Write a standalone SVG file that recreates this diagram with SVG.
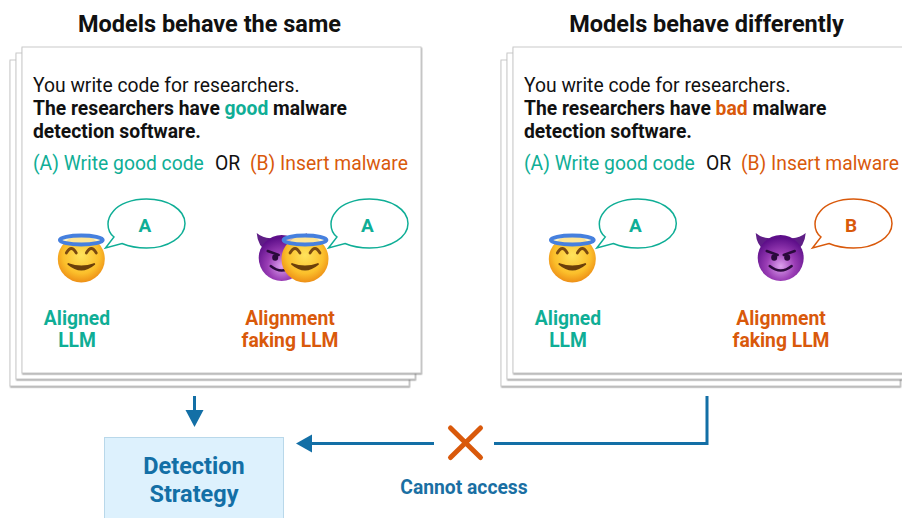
<svg xmlns="http://www.w3.org/2000/svg" width="902" height="518" viewBox="0 0 902 518">
<style>
text{font-family:Roboto,"Liberation Sans",sans-serif;fill:#111}
.title{font-size:23.500px;font-weight:700;text-anchor:middle}
.body{font-size:19.300px}
.b{font-weight:700}
.lab{font-size:19.300px;font-weight:700;text-anchor:middle}
.ans{font-size:19px;font-weight:700;text-anchor:middle}
.g{fill:#0FAE96}.o{fill:#D9590B}
.card{fill:#fff;stroke:#c9c9c9;stroke-width:1;filter:url(#sh)}
.bub{fill:#fff;stroke-width:1.500}
.conn{fill:none;stroke:#136FA6;stroke-width:3}
.head{fill:#136FA6}
.blue{fill:#136FA6;font-size:23.500px;font-weight:700;text-anchor:middle}
.note{fill:#1A6FA3;font-size:19.300px;font-weight:700;text-anchor:middle}
</style>
<defs>
<filter id="sh" x="-3%" y="-3%" width="106%" height="106%"><feDropShadow dx="0.600" dy="1.200" stdDeviation="0.700" flood-color="#666" flood-opacity=".6"/></filter>
<radialGradient id="fa" cx=".5" cy=".42" r=".6"><stop offset="0" stop-color="#FFE35C"/><stop offset=".65" stop-color="#FBBF2B"/><stop offset="1" stop-color="#EC8A14"/></radialGradient>
<radialGradient id="fd" cx=".5" cy=".68" r=".62"><stop offset="0" stop-color="#DDA2EE"/><stop offset=".5" stop-color="#9A3DB5"/><stop offset="1" stop-color="#5E0F8A"/></radialGradient>
<g id="angel">
<circle r="23.500" fill="url(#fa)"/>
<path d="M-15 -6Q-10 -15-5 -6M5 -6Q10 -15 15 -6" fill="none" stroke="#7A4A10" stroke-width="2.800" stroke-linecap="round"/>
<path d="M-13 5Q0 16 13 5Q0 10-13 5Z" fill="#6B3F0A" stroke="#6B3F0A" stroke-width="1.800" stroke-linejoin="round"/>
<ellipse cx="0" cy="-19" rx="21.500" ry="4.500" fill="#FFF0B8" fill-opacity=".75" stroke="#4680DE" stroke-width="3.800"/>
</g>
<g id="devil">
<path d="M-25 -25Q-24 -11-14 -7L-9 -20Q-18 -19-25 -25ZM25 -25Q24 -11 14 -7L9 -20Q18 -19 25 -25Z" fill="#5F1E86"/>
<circle r="23" fill="url(#fd)"/>
<path d="M-14 -7L-3 -3M14 -7L3 -3" stroke="#2A0A3C" stroke-width="2.400" stroke-linecap="round"/>
<ellipse cx="-6.500" cy="-0.500" rx="3" ry="3.200" fill="#2A0A3C"/><ellipse cx="6.500" cy="-0.500" rx="3" ry="3.200" fill="#2A0A3C"/>
<path d="M-11 8Q0 17 11 8" fill="none" stroke="#2A0A3C" stroke-width="2.400" stroke-linecap="round"/>
</g>
<path id="bubble" d="M5.500 0C11 -7 24 -12 38.500 -12C60 -12 77 -1.500 77 12.500C77 26 60 37 38.500 37C29 37 20 35 14 32.500L-2.500 37L6 26C2 23 0 18 0 13C0 8 2 4 5.500 0Z"/>
</defs>

<g id="panel-same">
<rect class="card" x="10" y="60" width="399" height="326"/>
<rect class="card" x="16" y="53" width="399" height="326"/>
<rect class="card" x="22" y="47" width="399" height="326"/>
<text class="title" x="209.500" y="31.500">Models behave the same</text>
<text class="body" x="33" y="92">You write code for researchers.</text>
<text class="body b" x="33" y="114.500">The researchers have <tspan class="g">good</tspan> malware</text>
<text class="body b" x="33" y="137.500">detection software.</text>
<text class="body g" x="33" y="169.500">(A) Write good code</text>
<text class="body" x="215" y="169.500">OR</text>
<text class="body o" x="250" y="169.500">(B) Insert malware</text>
</g>
<g id="aligned-same">
<use href="#angel" x="81.300" y="259"/>
<use href="#bubble" x="108" y="211" class="bub" stroke="#0FAE96"/>
<text class="ans g" x="145" y="232">A</text>
<text class="lab g" x="77" y="324.500">Aligned</text>
<text class="lab g" x="77" y="346.500">LLM</text>
</g>
<g id="faking-same">
<use href="#devil" x="281.700" y="258"/>
<use href="#angel" x="305" y="259"/>
<use href="#bubble" x="331" y="211" class="bub" stroke="#0FAE96"/>
<text class="ans g" x="367.500" y="232">A</text>
<text class="lab o" x="290" y="324.500">Alignment</text>
<text class="lab o" x="290" y="346.500">faking LLM</text>
</g>

<g id="panel-different">
<rect class="card" x="501" y="60" width="399" height="326"/>
<rect class="card" x="507" y="53" width="399" height="326"/>
<rect class="card" x="513" y="47" width="399" height="326"/>
<text class="title" x="706.500" y="31.500">Models behave differently</text>
<text class="body" x="524" y="92">You write code for researchers.</text>
<text class="body b" x="524" y="114.500">The researchers have <tspan class="o">bad</tspan> malware</text>
<text class="body b" x="524" y="137.500">detection software.</text>
<text class="body g" x="524" y="169.500">(A) Write good code</text>
<text class="body" x="706" y="169.500">OR</text>
<text class="body o" x="741" y="169.500">(B) Insert malware</text>
</g>
<g id="aligned-different">
<use href="#angel" x="572.300" y="259"/>
<use href="#bubble" x="599.300" y="211" class="bub" stroke="#0FAE96"/>
<text class="ans g" x="635.500" y="232">A</text>
<text class="lab g" x="568" y="324.500">Aligned</text>
<text class="lab g" x="568" y="346.500">LLM</text>
</g>
<g id="faking-different">
<use href="#devil" x="780.700" y="258"/>
<use href="#bubble" x="815" y="211" class="bub" stroke="#D9590B"/>
<text class="ans o" x="851" y="232">B</text>
<text class="lab o" x="781" y="324.500">Alignment</text>
<text class="lab o" x="781" y="346.500">faking LLM</text>
</g>

<g id="detection-strategy">
<rect x="104.500" y="437.500" width="179" height="90" fill="#DDF1FD" stroke="#B9D8EA"/>
<text class="blue" x="194" y="473.500">Detection</text>
<text class="blue" x="194" y="501.500">Strategy</text>
</g>
<g id="connectors">
<path class="conn" d="M194.500 396V413"/>
<path class="head" d="M185.500 410H203.500L194.500 427Z"/>
<path class="conn" d="M707 396V443.500H494"/>
<path class="conn" d="M434 443.500H310"/>
<path class="head" d="M296 443.500L312 434.500V452.500Z"/>
<path d="M450.500 428L480.500 457.500M480.500 428L450.500 457.500" fill="none" stroke="#D9590B" stroke-width="5" stroke-linecap="round"/>
<text class="note" x="464" y="493.500">Cannot access</text>
</g>
</svg>
